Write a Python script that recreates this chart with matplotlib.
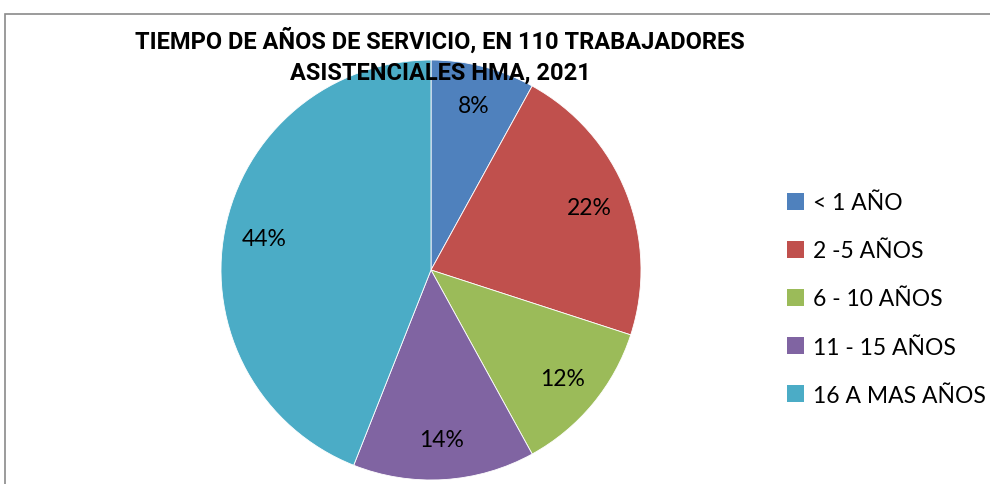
import matplotlib
matplotlib.use('Agg')
import matplotlib.pyplot as plt
from matplotlib.patches import Rectangle, Patch

# Data
categories = ['< 1 AÑO', '2 -5 AÑOS', '6 - 10 AÑOS', '11 - 15 AÑOS', '16 A MAS AÑOS']
percentages = [8, 22, 12, 14, 44]
colors = ['#4F81BD', '#C0504D', '#9BBB59', '#8064A2', '#4BACC6']
title = 'TIEMPO DE AÑOS DE SERVICIO, EN 110 TRABAJADORES\nASISTENCIALES HMA, 2021'

W, H = 990, 485
fig = plt.figure(figsize=(W / 100, H / 100), dpi=100)

# Chart area border (cropped on right and bottom)
fig.patches.append(Rectangle((5 / W, -0.1), 1.2, 1.1 - 15 / H, transform=fig.transFigure,
                             fill=False, edgecolor='#8a8a8a', linewidth=1.2))

# Pie axes, centred around (431, 271) px with radius ~210 px
cx, cy, r = 431, 271, 210
ax = fig.add_axes([(cx - r) / W, 1 - (cy + r) / H, 2 * r / W, 2 * r / H])
wedges, texts, autotexts = ax.pie(
    percentages, colors=colors, startangle=90, counterclock=False,
    autopct=lambda p: '{:.0f}%'.format(p), pctdistance=0.81,
    wedgeprops=dict(linewidth=0.6, edgecolor='white'),
    textprops=dict(fontsize=16.5, family='Lato', color='black'))
ax.set_xlim(-1.0, 1.0)
ax.set_ylim(-1.0, 1.0)
ax.set_aspect('equal')

# Title
fig.text(440 / W, 1 - 56 / H, title, ha='center', va='center', fontsize=17,
         fontweight='bold', family='Roboto', linespacing=1.45)

# Legend
handles = [Patch(facecolor=c, edgecolor='none') for c in colors]
fig.legend(handles, categories, loc='center left', bbox_to_anchor=(766 / W, 1 - 300 / H),
           frameon=False, prop=dict(family='Lato', size=16.5), labelspacing=1.18,
           handlelength=0.75, handleheight=0.75, handletextpad=0.4)

plt.savefig('out.png', dpi=100)
plt.close('all')
